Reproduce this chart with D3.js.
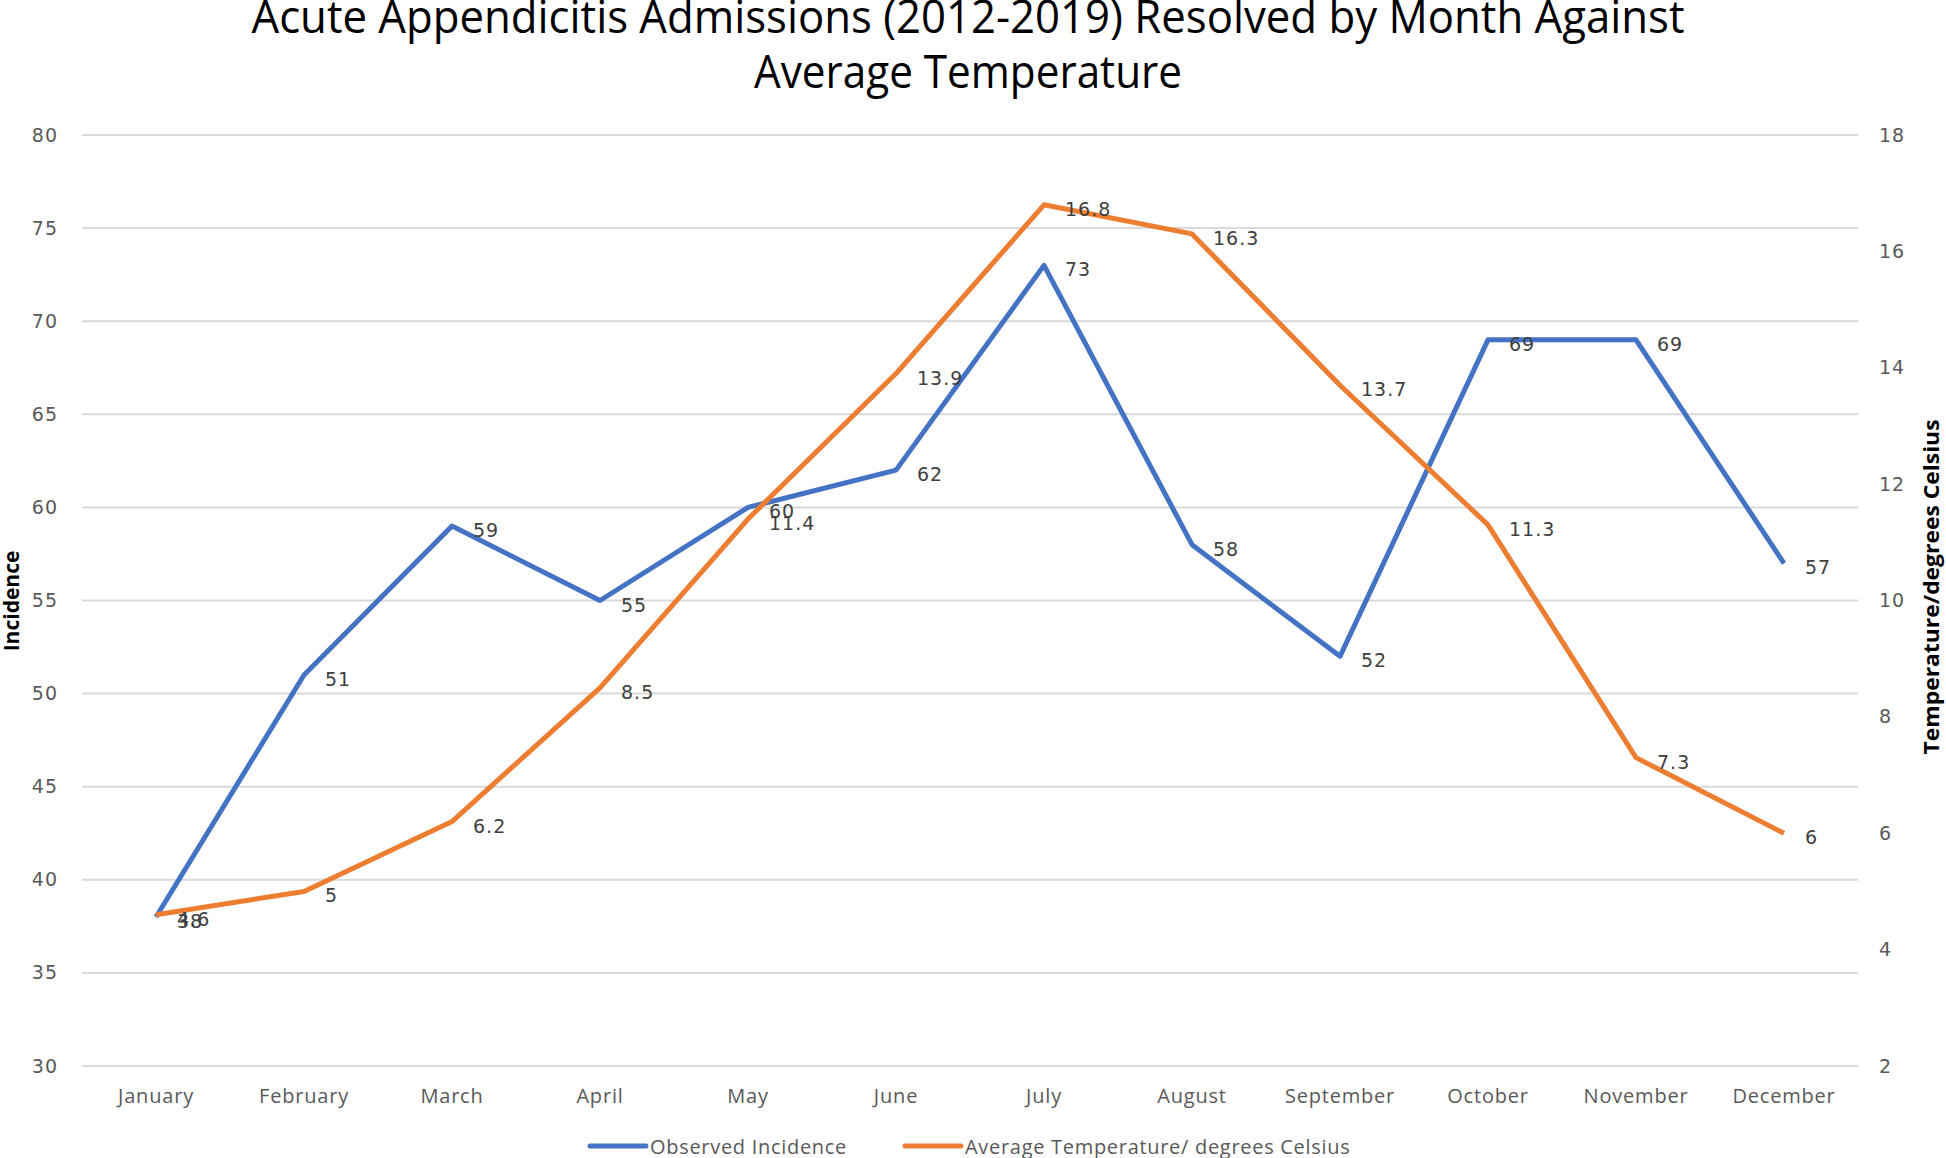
<!DOCTYPE html>
<html>
<head>
<meta charset="utf-8">
<script src="https://cdn.jsdelivr.net/npm/d3@7/dist/d3.min.js"></script>
<style>
  html, body { margin: 0; padding: 0; background: #fff; }
  svg { display: block; }
</style>
</head>
<body>
<div id="chart"></div>
<script>

const months = ["January", "February", "March", "April", "May", "June",
                "July", "August", "September", "October", "November", "December"];
const incidence = [38, 51, 59, 55, 60, 62, 73, 58, 52, 69, 69, 57];
const temperature = [4.6, 5, 6.2, 8.5, 11.4, 13.9, 16.8, 16.3, 13.7, 11.3, 7.3, 6];
const leftTicks = [30, 35, 40, 45, 50, 55, 60, 65, 70, 75, 80];
const rightTicks = [2, 4, 6, 8, 10, 12, 14, 16, 18];
const seriesNames = ["Observed Incidence", "Average Temperature/ degrees Celsius"];
const titleLines = ["Acute Appendicitis  Admissions (2012-2019) Resolved by Month Against",
                    "Average Temperature"];

var width = 1946;
var height = 1158;
var margin = ({top: 135, right: 88, bottom: 92, left: 82})

const NARROW = "'Open Sans', sans-serif";
const WIDE = "'DejaVu Sans', Verdana, sans-serif";
const BLUE = "#4472C4";
const ORANGE = "#ED7D31";

var svg = d3.select("#chart")
  .append("svg")
    .attr("width", width)
    .attr("height", height)

var x = d3.scaleBand()
  .domain(months)
  .range([margin.left, width - margin.right])

var yLeft = d3.scaleLinear()
  .domain([30, 80])
  .range([height - margin.bottom, margin.top])

var yRight = d3.scaleLinear()
  .domain([2, 18])
  .range([height - margin.bottom, margin.top])

var cx = d => x(d) + x.bandwidth() / 2;

// gridlines
svg.append("g")
  .selectAll("line")
  .data(leftTicks)
  .join("line")
    .attr("x1", margin.left)
    .attr("x2", width - margin.right)
    .attr("y1", d => yLeft(d))
    .attr("y2", d => yLeft(d))
    .attr("stroke", "#d9d9d9")
    .attr("stroke-width", 2)

// left axis
var gl = svg.append("g")
    .attr("transform", `translate(58,0)`)
    .call(d3.axisLeft(yLeft).tickValues(leftTicks).tickSize(0).tickPadding(0))
gl.select(".domain").remove()
gl.selectAll("text")
    .attr("font-family", WIDE)
    .attr("font-size", 19)
    .attr("letter-spacing", 1)
    .attr("fill", "#595959")

// right axis
var gr = svg.append("g")
    .attr("transform", `translate(1879,0)`)
    .call(d3.axisRight(yRight).tickValues(rightTicks).tickSize(0).tickPadding(0))
gr.select(".domain").remove()
gr.selectAll("text")
    .attr("font-family", WIDE)
    .attr("font-size", 19)
    .attr("letter-spacing", 1)
    .attr("fill", "#595959")

// bottom axis
var gb = svg.append("g")
    .attr("transform", `translate(0,${height - margin.bottom})`)
    .call(d3.axisBottom(x).tickSize(0).tickPadding(23))
gb.select(".domain").remove()
gb.selectAll("text")
    .attr("font-family", NARROW)
    .attr("font-size", 20)
    .attr("letter-spacing", 0.8)
    .attr("fill", "#595959")

// axis titles
svg.append("text")
    .attr("transform", "translate(19,601) rotate(-90)")
    .attr("text-anchor", "middle")
    .attr("font-family", NARROW)
    .attr("font-weight", "bold")
    .attr("font-size", 21)
    .attr("fill", "#000")
    .text("Incidence");

svg.append("text")
    .attr("transform", "translate(1939,587) rotate(-90)")
    .attr("text-anchor", "middle")
    .attr("font-family", NARROW)
    .attr("font-weight", "bold")
    .attr("font-size", 21)
    .attr("textLength", 335)
    .attr("lengthAdjust", "spacingAndGlyphs")
    .attr("fill", "#000")
    .text("Temperature/degrees Celsius");

// title
svg.append("g")
  .selectAll("text")
  .data(titleLines)
  .join("text")
    .attr("x", 968)
    .attr("y", (d, i) => 33 + i * 55)
    .attr("text-anchor", "middle")
    .attr("font-family", NARROW)
    .attr("font-size", 45)
    .attr("textLength", (d, i) => [1433, 428][i])
    .attr("lengthAdjust", "spacingAndGlyphs")
    .attr("fill", "#000")
    .text(d => d);

// lines
var lineInc = d3.line()
    .x((d, i) => cx(months[i]))
    .y(d => yLeft(d))

var lineTemp = d3.line()
    .x((d, i) => cx(months[i]))
    .y(d => yRight(d))

svg.append("path")
    .datum(incidence)
    .attr("fill", "none")
    .attr("stroke", BLUE)
    .attr("stroke-width", 5)
    .attr("stroke-linejoin", "round")
    .attr("d", lineInc)

svg.append("path")
    .datum(temperature)
    .attr("fill", "none")
    .attr("stroke", ORANGE)
    .attr("stroke-width", 5)
    .attr("stroke-linejoin", "round")
    .attr("d", lineTemp)

// data labels
function labels(data, scale) {
  svg.append("g")
    .selectAll("text")
    .data(data)
    .join("text")
      .attr("x", (d, i) => cx(months[i]) + 21)
      .attr("y", d => scale(d) + 4)
      .attr("dominant-baseline", "central")
      .attr("font-family", WIDE)
      .attr("font-size", 19)
      .attr("letter-spacing", 1)
      .attr("fill", "#404040")
      .text(d => d);
}
labels(incidence, yLeft);
labels(temperature, yRight);

// legend
var legend = svg.append("g")
  .selectAll("g")
  .data(seriesNames)
  .join("g")
    .attr("transform", (d, i) => `translate(${[590, 905][i]},1146)`)

legend.append("line")
    .attr("x1", 0).attr("x2", 56)
    .attr("stroke", (d, i) => [BLUE, ORANGE][i])
    .attr("stroke-width", 5)
    .attr("stroke-linecap", "round")

legend.append("text")
    .attr("x", 60)
    .attr("dominant-baseline", "central")
    .attr("font-family", NARROW)
    .attr("font-size", 20)
    .attr("letter-spacing", 0.7)
    .attr("fill", "#595959")
    .text(d => d);

</script>
</body>
</html>
